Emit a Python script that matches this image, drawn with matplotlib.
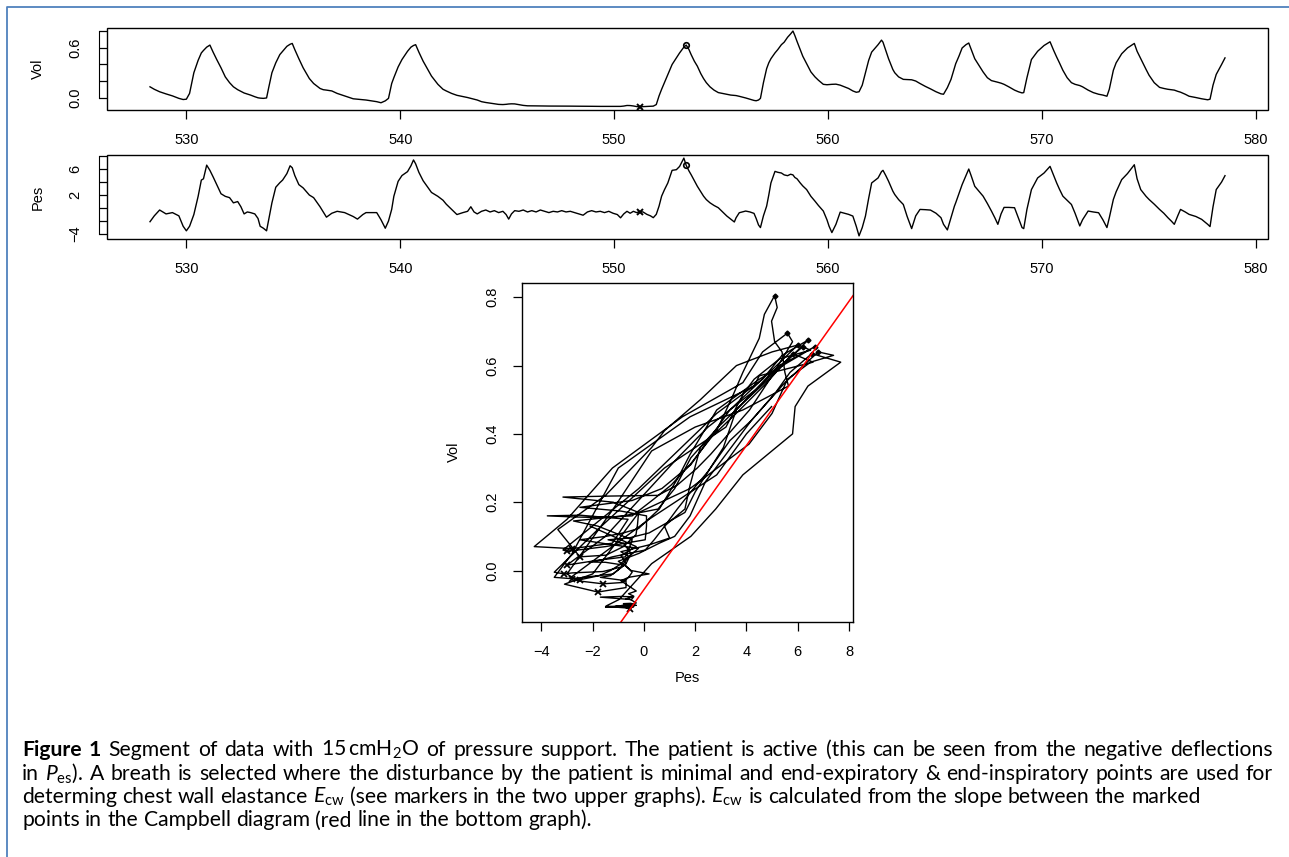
import numpy as np
import matplotlib
matplotlib.use('Agg')
import matplotlib.pyplot as plt
from matplotlib.patches import Rectangle
from matplotlib.lines import Line2D

plt.rcParams['font.family'] = ['Liberation Sans', 'DejaVu Sans']
plt.rcParams['mathtext.fontset'] = 'custom'
plt.rcParams['mathtext.rm'] = 'Lato'
plt.rcParams['mathtext.it'] = 'Lato:italic'
plt.rcParams['mathtext.bf'] = 'Lato:bold'

# time (s), volume and oesophageal pressure at shared time points
t_s = [528.30, 528.50, 528.75, 529.05, 529.35, 529.65, 529.85, 530.00,
       530.15, 530.35, 530.55, 530.70, 530.80, 530.95, 531.10,
       531.25, 531.42, 531.62, 531.82, 532.02, 532.20, 532.40, 532.55, 532.70, 532.85, 533.00,
       533.20, 533.35, 533.45, 533.60, 533.75, 533.85, 534.00, 534.18, 534.37, 534.50, 534.70, 534.85, 534.95,
       535.07, 535.26, 535.46, 535.75, 535.95, 536.25, 536.40, 536.55, 536.80, 537.05, 537.40, 537.80, 538.00, 538.25, 538.40, 538.90,
       539.10, 539.30, 539.45, 539.60, 539.70, 539.90, 540.08, 540.34, 540.50, 540.62, 540.72,
       540.87, 541.07, 541.20, 541.46, 541.76, 542.00, 542.15, 542.40, 542.65, 542.93,
       543.15, 543.30, 543.45, 543.60, 543.80, 544.00, 544.20, 544.40, 544.60, 544.80,
       544.95, 545.07, 545.20, 545.35, 545.55, 545.75, 545.95, 546.15, 546.35, 546.55,
       546.75, 546.95, 547.15, 547.35, 547.55, 547.75, 547.95, 548.15, 548.35, 548.55,
       548.75, 548.95, 549.15, 549.35, 549.55, 549.75, 549.95, 550.15, 550.30, 550.45,
       550.60, 550.75, 550.90, 551.05, 551.19, 551.35, 551.53, 551.70, 551.83, 551.97,
       552.10, 552.22, 552.35, 552.51, 552.71, 552.91, 553.06, 553.26, 553.37,
       553.50, 553.60, 553.75, 553.89, 554.05, 554.18, 554.31, 554.48, 554.67, 554.87, 555.07, 555.27, 555.45, 555.62, 555.70, 555.85, 556.15, 556.35, 556.54, 556.64, 556.75, 556.84,
       556.98, 557.13, 557.23, 557.33, 557.52, 557.65, 557.82, 557.95, 558.11, 558.25, 558.36,
       558.45, 558.55, 558.70, 558.82, 559.00, 559.20, 559.39, 559.55, 559.78, 559.95, 560.05, 560.18, 560.37, 560.57, 560.96, 561.16, 561.32, 561.45, 561.60, 561.75, 561.90, 562.04, 562.34, 562.50,
       562.57, 562.70, 562.83, 563.03, 563.12, 563.30, 563.52, 563.70, 563.91, 564.10, 564.30, 564.55, 564.79, 565.05, 565.28, 565.40, 565.58, 565.75, 565.91, 565.97, 566.12, 566.27, 566.45, 566.58,
       566.70, 566.86, 567.08, 567.25, 567.45, 567.64, 567.80, 567.94, 568.09, 568.23, 568.45, 568.72, 568.90, 569.07, 569.15, 569.30, 569.51, 569.80, 570.10, 570.38,
       570.55, 570.69, 570.82, 570.98, 571.18, 571.38, 571.55, 571.77, 571.90, 572.16, 572.40, 572.65, 572.85, 573.04, 573.15, 573.34, 573.47, 573.73, 574.00, 574.32,
       574.45, 574.62, 574.87, 575.01, 575.25, 575.50, 575.70, 575.89, 576.05, 576.19, 576.35, 576.48, 576.70, 576.88, 577.20, 577.47, 577.75, 577.86, 578.00, 578.15, 578.40, 578.56]

vol = [0.13, 0.10, 0.07, 0.044, 0.02, -0.01, -0.024, -0.02,
       0.05, 0.30, 0.45, 0.54, 0.57, 0.61, 0.635,
       0.55, 0.46, 0.36, 0.25, 0.18, 0.13, 0.095, 0.075, 0.055, 0.042, 0.03,
       0.01, -0.003, -0.007, -0.01, -0.005, 0.12, 0.30, 0.42, 0.52, 0.56, 0.62, 0.645, 0.655,
       0.58, 0.47, 0.36, 0.23, 0.17, 0.11, 0.095, 0.09, 0.08, 0.05, 0.02, -0.015, -0.02, -0.027, -0.03, -0.05,
       -0.063, -0.04, -0.01, 0.17, 0.24, 0.37, 0.46, 0.56, 0.61, 0.63, 0.64,
       0.55, 0.44, 0.38, 0.26, 0.16, 0.10, 0.08, 0.05, 0.027, 0.012,
       0.0, -0.01, -0.02, -0.03, -0.05, -0.06, -0.068, -0.075, -0.083, -0.085,
       -0.082, -0.078, -0.076, -0.077, -0.086, -0.095, -0.10, -0.10, -0.101, -0.102,
       -0.102, -0.103, -0.103, -0.104, -0.104, -0.104, -0.104, -0.105, -0.105, -0.105,
       -0.106, -0.106, -0.107, -0.107, -0.107, -0.107, -0.107, -0.107, -0.107, -0.103,
       -0.096, -0.097, -0.102, -0.109, -0.114, -0.11, -0.108, -0.106, -0.104, -0.085,
       0.02, 0.10, 0.18, 0.28, 0.40, 0.48, 0.54, 0.61, 0.635,
       0.58, 0.52, 0.44, 0.38, 0.29, 0.23, 0.18, 0.13, 0.09, 0.06, 0.05, 0.04, 0.03, 0.025, 0.024, 0.015, -0.005, -0.02, -0.035, -0.039, -0.03, -0.01,
       0.18, 0.35, 0.42, 0.47, 0.54, 0.58, 0.64, 0.67, 0.73, 0.77, 0.805,
       0.75, 0.68, 0.58, 0.50, 0.41, 0.31, 0.25, 0.21, 0.16, 0.155, 0.157, 0.16, 0.162, 0.15, 0.11, 0.08, 0.064, 0.07, 0.15, 0.30, 0.45, 0.55, 0.64, 0.695,
       0.67, 0.57, 0.47, 0.34, 0.30, 0.25, 0.22, 0.218, 0.215, 0.20, 0.17, 0.135, 0.105, 0.07, 0.045, 0.04, 0.12, 0.22, 0.36, 0.41, 0.50, 0.60, 0.64, 0.66,
       0.58, 0.47, 0.38, 0.31, 0.24, 0.205, 0.195, 0.185, 0.174, 0.16, 0.13, 0.09, 0.07, 0.056, 0.06, 0.24, 0.46, 0.56, 0.63, 0.675,
       0.57, 0.49, 0.42, 0.33, 0.24, 0.18, 0.16, 0.145, 0.13, 0.09, 0.06, 0.04, 0.03, 0.016, 0.10, 0.33, 0.42, 0.53, 0.60, 0.655,
       0.56, 0.47, 0.34, 0.27, 0.18, 0.123, 0.11, 0.10, 0.095, 0.09, 0.075, 0.065, 0.04, 0.016, 0.0, -0.015, -0.027, -0.02, 0.15, 0.28, 0.40, 0.48]

pes = [-2.1, -1.2, -0.3, -0.9, -0.7, -1.2, -2.8, -3.5,
       -2.8, -1.0, 1.8, 4.3, 4.5, 6.6, 5.8,
       4.8, 3.6, 2.2, 1.8, 1.6, 0.8, 1.0, 0.2, -0.9, -0.6, -0.7,
       -0.9, -1.6, -2.8, -3.1, -3.5, -1.8, 0.8, 3.2, 3.9, 4.3, 5.3, 6.5, 6.2,
       5.0, 3.6, 3.1, 2.0, 1.6, 0.2, -0.6, -1.4, -0.8, -0.5, -0.7, -1.3, -1.7, -1.0, -0.7, -0.7,
       -1.8, -3.1, -2.0, -0.2, 1.8, 4.1, 5.0, 5.6, 6.5, 7.4, 6.8,
       5.5, 4.2, 3.6, 2.4, 1.8, 1.2, 0.6, -0.2, -1.0, -0.7,
       -0.5, 0.2, -0.6, -0.9, -0.5, -0.3, -0.6, -0.4, -0.7, -0.5,
       -1.0, -1.7, -0.9, -0.4, -0.5, -0.3, -0.6, -0.4, -0.6, -0.3,
       -0.5, -0.7, -0.5, -0.6, -0.4, -0.6, -0.5, -0.7, -0.9, -1.1,
       -0.6, -0.4, -0.6, -0.5, -0.7, -0.5, -0.8, -1.0, -1.5, -0.9,
       -0.5, -0.8, -0.5, -0.7, -0.55, -0.6, -0.97, -1.2, -1.48, -0.97,
       0.3, 1.83, 2.8, 3.86, 5.8, 5.9, 6.4, 7.68, 6.55,
       5.7, 5.13, 4.2, 3.35, 2.5, 1.83, 1.3, 0.81, 0.4, 0.05, -0.6, -1.23, -1.7, -2.14, -1.5, -0.72, -0.46, -0.6, -0.82, -1.6, -2.6, -3.0,
       -1.2, 0.3, 2.0, 3.86, 5.64, 5.5, 5.39, 5.1, 4.98, 5.2, 5.1,
       4.7, 4.5, 3.86, 3.4, 2.84, 1.8, 1.06, 0.4, -0.46, -1.8, -2.8, -3.77, -2.5, -0.62, -0.97, -1.23, -2.8, -4.28, -3.0, -1.23, 1.5, 3.86, 4.63, 5.6,
       5.8, 5.0, 4.12, 2.6, 2.08, 1.3, 0.55, -1.3, -3.16, -1.2, -0.21, -0.25, -0.31, -0.8, -1.48, -2.5, -3.36, -1.5, 0.3, 0.81, 2.2, 3.61, 5.0, 6.0,
       4.9, 3.35, 2.5, 1.83, 0.7, -0.46, -1.5, -2.5, -0.9, 0.1, 0.1, 0.05, -1.5, -3.0, -3.16, -0.2, 2.84, 4.63, 5.39, 6.41,
       5.0, 3.86, 2.9, 1.83, 1.2, 0.55, -0.8, -2.75, -1.8, -0.46, -0.6, -0.72, -1.8, -3.0, -1.5, 1.32, 2.5, 4.37, 5.3, 6.66,
       4.5, 2.84, 1.8, 1.32, 0.6, -0.21, -0.8, -1.48, -2.0, -2.5, -1.2, -0.21, -0.6, -0.97, -1.3, -1.74, -2.5, -2.85, 0.2, 2.84, 4.0, 4.98]

assert len(t_s) == len(vol) == len(pes)

# end-expiratory / end-inspiratory times of every breath (Campbell markers)
ee_times = [529.85, 533.60, 539.10, 551.19, 556.64, 561.32, 565.40, 569.07, 573.04, 577.75]
ei_times = [531.10, 534.95, 540.72, 553.37, 558.36, 562.50, 566.58, 570.38, 574.32]
# the breath picked for the chest wall elastance
sel_ee, sel_ei = 551.19, 553.37

x_ticks = [530, 540, 550, 560, 570, 580]
vol_ticks = [0.0, 0.2, 0.4, 0.6, 0.8]
vol_ticklabels = ['0.0', '', '', '0.6', '']
pes_ticks = [-4, -2, 0, 2, 4, 6, 8]
pes_ticklabels = ['\u22124', '', '', '2', '', '6', '']
cb_xticks = [-4, -2, 0, 2, 4, 6, 8]
cb_yticks = [0.0, 0.2, 0.4, 0.6, 0.8]

caption = [
    'Figure 1 Segment of data with 15$\\,$cmH$_2$O of pressure support. The patient is active (this can be seen from the negative deflections',
    'in $P_{\\mathrm{es}}$). A breath is selected where the disturbance by the patient is minimal and end-expiratory & end-inspiratory points are used for',
    'determing chest wall elastance $E_{\\mathrm{cw}}$ (see markers in the two upper graphs). $E_{\\mathrm{cw}}$ is calculated from the slope between the marked',
    'points in the Campbell diagram (red line in the bottom graph).',
]

t_s = np.array(t_s)
vol = np.array(vol)
pes = np.array(pes)

def idx(t):
    return int(np.argmin(np.abs(t_s - t)))

i_ee, i_ei = idx(sel_ee), idx(sel_ei)
ee_idx = [idx(t) for t in ee_times]
ei_idx = [idx(t) for t in ei_times]

W, H = 1289, 857
fig = plt.figure(figsize=(W / 100, H / 100), dpi=100)

def px_axes(l, t, r, b):
    return fig.add_axes([l / W, 1 - b / H, (r - l) / W, (b - t) / H])

fs = 10.5

def strip(ax, y, yticks, ylabels, label, ycen):
    ax.plot(t_s, y, color='black', lw=1.0)
    ax.plot(t_s[i_ee], y[i_ee], 'x', color='black', ms=4.5, mew=1.4)
    ax.plot(t_s[i_ei], y[i_ei], 'o', color='black', mfc='none', ms=4, mew=1.2)
    ax.margins(x=0.04, y=0.04)
    for s in ax.spines.values():
        s.set_visible(False)
    ax.spines['left'].set_visible(True)
    ax.spines['left'].set_position(('outward', 6))
    ax.spines['left'].set_bounds(yticks[0], yticks[-1])
    ax.add_patch(Rectangle((0, 0), 1, 1, transform=ax.transAxes, fill=False,
                           lw=1.0, color='black', clip_on=False, zorder=5))
    ax.set_xticks(x_ticks)
    ax.set_yticks(yticks)
    ax.set_yticklabels(ylabels)
    ax.tick_params(axis='y', direction='in', length=6, width=0.9, pad=12,
                   labelrotation=90, labelsize=fs)
    ax.tick_params(axis='x', direction='out', length=6.5, width=0.9, pad=10, labelsize=fs)
    for lab in ax.get_yticklabels():
        lab.set_va('center')
    fig.text(38 / W, 1 - ycen / H, label, rotation=90, ha='center', va='center', fontsize=fs)

ax1 = px_axes(107, 28, 1268, 110)
strip(ax1, vol, vol_ticks, vol_ticklabels, 'Vol', 69)
ax2 = px_axes(107, 155, 1268, 239)
strip(ax2, pes, pes_ticks, pes_ticklabels, 'Pes', 197)

# Campbell diagram
ax3 = px_axes(522, 283, 853, 622)
ax3.plot(pes, vol, color='black', lw=1.0)
ax3.plot(pes[ee_idx], vol[ee_idx], 'x', color='black', ms=4, mew=1.3)
ax3.plot(pes[ei_idx], vol[ei_idx], 'D', color='black', ms=2.5)
ax3.margins(x=0.04, y=0.04)
ax3.axline((pes[i_ee], vol[i_ee]), (pes[i_ei], vol[i_ei]), color='red', lw=1.1)
ax3.set_xticks(cb_xticks)
ax3.set_xticklabels([('\u2212' + str(-v)) if v < 0 else str(v) for v in cb_xticks])
ax3.set_yticks(cb_yticks)
ax3.set_yticklabels(['%.1f' % v for v in cb_yticks])
ax3.tick_params(direction='out', length=6.5, width=0.9, pad=10, labelsize=fs)
ax3.tick_params(axis='y', labelrotation=90)
for lab in ax3.get_yticklabels():
    lab.set_va('center')
for s in ax3.spines.values():
    s.set_linewidth(1.0)
fig.text(454 / W, 1 - 452 / H, 'Vol', rotation=90, ha='center', va='center', fontsize=fs)
fig.text(687 / W, 1 - 678 / H, 'Pes', ha='center', va='center', fontsize=fs)

# blue frame
fig.add_artist(Line2D([7 / W, 7 / W, 1], [0, 1 - 7 / H, 1 - 7 / H], color='#4f81bd', lw=1.3))

# caption, first two lines justified
cap_fs = 15.2
x0, x1 = 22, 1273
base0, dy = 756, 23.5
renderer = fig.canvas.get_renderer()
sp = fig.text(0, 0, 'a a', fontsize=cap_fs, family='Lato')
sp2 = fig.text(0, 0, 'aa', fontsize=cap_fs, family='Lato')
space = sp.get_window_extent(renderer).width - sp2.get_window_extent(renderer).width
sp.remove()
sp2.remove()
for k, line in enumerate(caption):
    words = line.split(' ')
    y = 1 - (base0 + k * dy) / H
    objs = []
    for j, w in enumerate(words):
        weight = 'bold' if (k == 0 and j < 2) else 'normal'
        objs.append(fig.text(0, y, w, fontsize=cap_fs, family='Lato', fontweight=weight, va='baseline'))
    widths = [o.get_window_extent(renderer).width for o in objs]
    gap = (x1 - x0 - sum(widths)) / (len(words) - 1) if k < 2 else space
    x = x0
    for o, w in zip(objs, widths):
        o.set_x(x / W)
        x += w + gap

fig.savefig('out.png', dpi=100)
